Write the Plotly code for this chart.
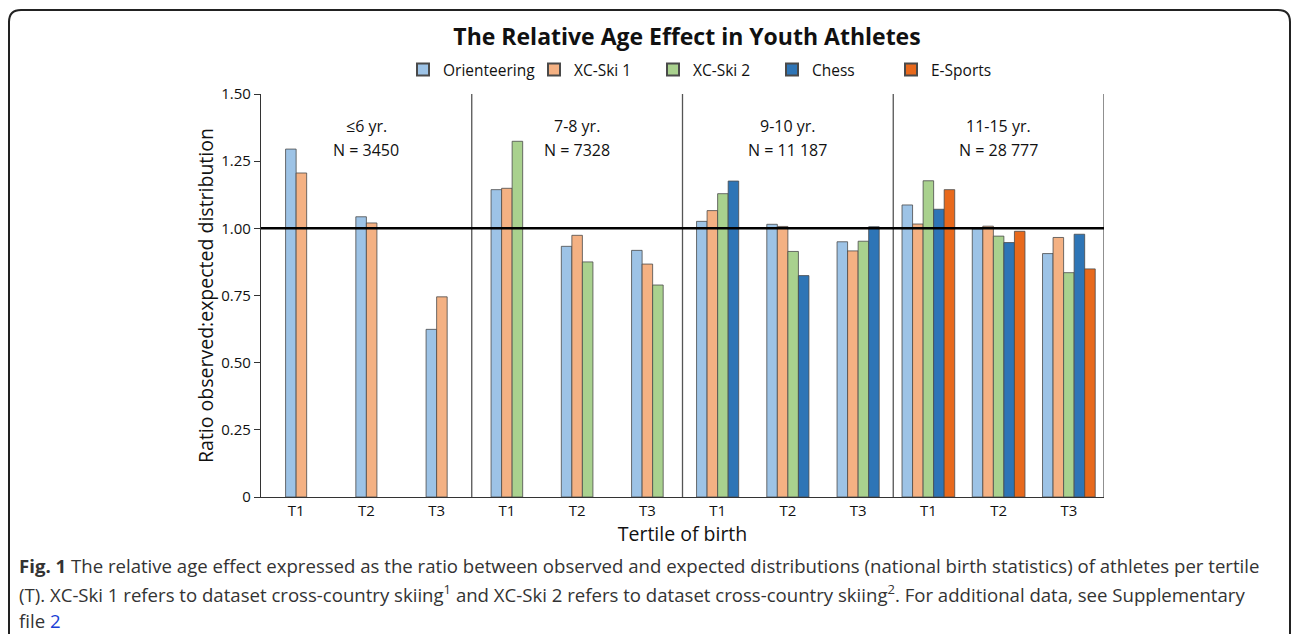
import plotly.graph_objects as go

# ---- data ----
age_groups = ["≤6 yr.", "7-8 yr.", "9-10 yr.", "11-15 yr."]
group_n = ["N = 3450", "N = 7328", "N = 11 187", "N = 28 777"]
tertiles = ["T1", "T2", "T3"]

orienteering = [1.295, 1.043, 0.624, 1.144, 0.933, 0.918, 1.026, 1.015, 0.950, 1.087, 0.998, 0.906]
xc_ski_1 = [1.206, 1.020, 0.745, 1.149, 0.974, 0.867, 1.066, 1.007, 0.916, 1.016, 1.008, 0.966]
xc_ski_2 = [None, None, None, 1.324, 0.875, 0.789, 1.129, 0.914, 0.952, 1.177, 0.971, 0.835]
chess = [None, None, None, None, None, None, 1.176, 0.824, 1.006, 1.071, 0.947, 0.978]
e_sports = [None, None, None, None, None, None, None, None, None, 1.144, 0.989, 0.849]

series_names = ["Orienteering", "XC-Ski 1", "XC-Ski 2", "Chess", "E-Sports"]
series_values = [orienteering, xc_ski_1, xc_ski_2, chess, e_sports]
series_colors = ["#9DC3E6", "#F4B183", "#A9D18E", "#2E75B6", "#E8691C"]

ytick_vals = [0, 0.25, 0.5, 0.75, 1.0, 1.25, 1.5]
ytick_text = ["0", "0.25", "0.50", "0.75", "1.00", "1.25", "1.50"]

# ---- layout helpers ----
FONT = "Open Sans"
W, H = 1292, 634
L, R, T, B = 261, 1104, 94, 497
n_cat = len(age_groups) * len(tertiles)
cat_x = list(range(n_cat))
tick_text = tertiles * len(age_groups)
bar_w = 0.15

def px_x(p):
    return (p - L) / (R - L)

def px_y(p):
    return (B - p) / (B - T)

fig = go.Figure()

# count present series per category to centre the bars
present = [[j for j, s in enumerate(series_values) if s[i] is not None] for i in range(n_cat)]

for j, (name, vals, col) in enumerate(zip(series_names, series_values, series_colors)):
    xs, ys, offs = [], [], []
    for i in range(n_cat):
        if vals[i] is None:
            continue
        k = len(present[i])
        pos = present[i].index(j)
        xs.append(cat_x[i])
        ys.append(vals[i])
        offs.append(-k * bar_w / 2 + pos * bar_w)
    fig.add_trace(go.Bar(
        x=xs, y=ys, name=name, offset=offs, width=[bar_w] * len(xs),
        marker=dict(color=col, line=dict(color="#4a4a4a", width=0.8)),
        legend="legend" if j == 0 else "legend2",
    ))

shapes = []
# group separators and right border
for b in [2.5, 5.5, 8.5, 11.5]:
    shapes.append(dict(type="line", xref="x", yref="paper", x0=b, x1=b, y0=0, y1=1,
                       line=dict(color="#555555", width=1.3)))
# reference line at 1.00
shapes.append(dict(type="line", xref="paper", yref="y", x0=0, x1=1, y0=1, y1=1,
                   line=dict(color="black", width=2.5)))

# rounded frame around the whole figure
fl, ft, fr, fb, rad = 9, 10, 1290, 660, 12
path = (f"M {px_x(fl)},{px_y(fb)} L {px_x(fl)},{px_y(ft + rad)} "
        f"Q {px_x(fl)},{px_y(ft)} {px_x(fl + rad)},{px_y(ft)} "
        f"L {px_x(fr - rad)},{px_y(ft)} "
        f"Q {px_x(fr)},{px_y(ft)} {px_x(fr)},{px_y(ft + rad)} "
        f"L {px_x(fr)},{px_y(fb)}")
shapes.append(dict(type="path", xref="paper", yref="paper", path=path,
                   line=dict(color="#222222", width=2)))

annotations = []
for g, (lab, n) in enumerate(zip(age_groups, group_n)):
    cx = g * 3 + 1
    annotations.append(dict(x=cx, xref="x", y=px_y(113), yref="paper", text=lab,
                            showarrow=False, font=dict(family=FONT, size=16, color="#111")))
    annotations.append(dict(x=cx, xref="x", y=px_y(137), yref="paper", text=n,
                            showarrow=False, font=dict(family=FONT, size=16, color="#111")))

cap_font = dict(family=FONT, size=18.6, color="#333333")
cap_lines = [
    "<b>Fig. 1</b> The relative age effect expressed as the ratio between observed and expected distributions (national birth statistics) of athletes per tertile",
    "(T). XC-Ski 1 refers to dataset cross-country skiing<sup>1</sup> and XC-Ski 2 refers to dataset cross-country skiing<sup>2</sup>. For additional data, see Supplementary",
    "file <span style='color:#1a3fd6'>2</span>",
]
for yy, line in zip([565, 593, 620], cap_lines):
    annotations.append(dict(x=px_x(17), xref="paper", y=px_y(yy), yref="paper", text=line,
                            xanchor="left", yanchor="middle", showarrow=False, font=cap_font))

legend_common = dict(orientation="h", xanchor="left", y=px_y(70), yanchor="middle",
                     font=dict(family=FONT, size=15.5, color="#111"),
                     bgcolor="rgba(0,0,0,0)", traceorder="normal", itemsizing="constant")

fig.update_layout(
    width=W, height=H,
    margin=dict(l=L, r=W - R, t=T, b=H - B, autoexpand=False),
    paper_bgcolor="white", plot_bgcolor="white",
    barmode="overlay",
    font=dict(family=FONT, color="#111"),
    title=dict(text="<b>The Relative Age Effect in Youth Athletes</b>",
               xref="container", x=687 / W, xanchor="center", y=1 - 37 / H, yanchor="middle",
               font=dict(family=FONT, size=23, color="#111")),
    legend=dict(x=px_x(403), **legend_common),
    legend2=dict(x=px_x(534), entrywidth=74, entrywidthmode="pixels", **legend_common),
    xaxis=dict(range=[-0.5, 11.5], tickmode="array", tickvals=cat_x, ticktext=tick_text,
               showline=True, linecolor="#333", linewidth=1.3, ticks="", showgrid=False,
               zeroline=False, tickfont=dict(family=FONT, size=15, color="#111"),
               title=dict(text="Tertile of birth", font=dict(family=FONT, size=19.5, color="#111"),
                          standoff=4)),
    yaxis=dict(range=[0, 1.5], tickmode="array", tickvals=ytick_vals, ticktext=ytick_text,
               showline=True, linecolor="#333", linewidth=1.3, ticks="outside", ticklen=6,
               tickcolor="#333", showgrid=False, zeroline=False,
               tickfont=dict(family=FONT, size=15, color="#111"),
               title=dict(text="Ratio observed:expected distribution",
                          font=dict(family=FONT, size=19.5, color="#111"), standoff=2)),
    shapes=shapes,
    annotations=annotations,
    showlegend=True,
)

fig.write_html("out.html", config={"displayModeBar": False},
               post_script="document.body.style.margin='0';")
